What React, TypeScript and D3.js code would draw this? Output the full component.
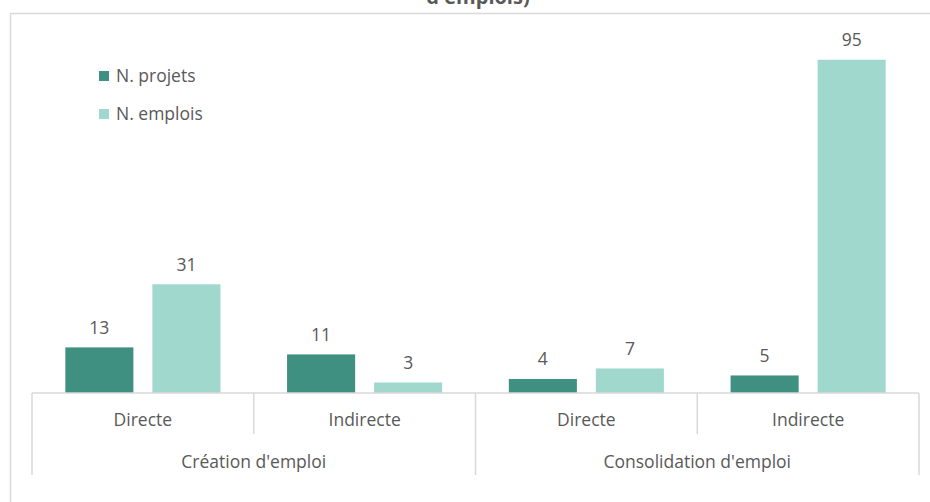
import React from "react";
import * as d3 from "d3";

const groups = ["Création d'emploi", "Consolidation d'emploi"];
const subcats = ["Directe", "Indirecte"];
const seriesNames = ["N. projets", "N. emplois"];
const projets = [13, 11, 4, 5];
const emplois = [31, 3, 7, 95];
const colors = ["#3F9080", "#A1D8CE"];

const W = 930;
const H = 502;
const left = 32;
const right = 919;
const base = 393;
const FONT = "'Open Sans', 'Noto Sans', sans-serif";
const TXT = "#595959";
const GRID = "#D9D9D9";
const FS = 17.5;

export default function App() {
  const cats = groups.flatMap((g) => subcats.map((s) => `${g}|${s}`));
  const x = d3.scaleBand<string>().domain(cats).range([left, right]).paddingInner(0).paddingOuter(0);
  const inner = d3.scaleBand<string>().domain(seriesNames).range([0, x.bandwidth()]).paddingInner(0.218).paddingOuter(0.383);
  const y = d3.scaleLinear().domain([0, 100]).range([base, 42.2]);
  const gx = d3.scaleBand<string>().domain(groups).range([left, right]);
  const values = [projets, emplois];

  return (
    <svg width={W} height={H} style={{ position: "fixed", left: 0, top: 0, background: "#fff" }} fontFamily={FONT}>
      <rect x={10.5} y={13.5} width={W} height={H} fill="#fff" stroke={GRID} strokeWidth={1.5} />
      <text x={478} y={4} textAnchor="middle" fontSize={20} fontWeight="bold" fill={TXT}>d'emplois)</text>
      {cats.map((c, i) =>
        values.map((vals, si) => {
          const v = vals[i];
          const bx = (x(c) as number) + (inner(seriesNames[si]) as number);
          return (
            <g key={c + si}>
              <rect x={bx} y={y(v)} width={inner.bandwidth()} height={base - y(v)} fill={colors[si]} />
              <text x={bx + inner.bandwidth() / 2} y={y(v) - 13.5} textAnchor="middle" fontSize={FS} fill={TXT}>{v}</text>
            </g>
          );
        })
      )}
      <line x1={left} x2={right} y1={base} y2={base} stroke={GRID} strokeWidth={1.5} />
      {cats.map((c, i) => (
        <g key={"ax" + c}>
          <line x1={x(c)} x2={x(c)} y1={base} y2={i % 2 === 0 ? 475 : 434} stroke={GRID} strokeWidth={1.5} />
          <text x={(x(c) as number) + x.bandwidth() / 2} y={426} textAnchor="middle" fontSize={FS} fill={TXT}>{c.split("|")[1]}</text>
        </g>
      ))}
      <line x1={right} x2={right} y1={base} y2={475} stroke={GRID} strokeWidth={1.5} />
      {groups.map((g) => (
        <text key={g} x={(gx(g) as number) + gx.bandwidth() / 2} y={468} textAnchor="middle" fontSize={FS} fill={TXT}>{g}</text>
      ))}
      {seriesNames.map((s, i) => (
        <g key={s} transform={`translate(99, ${71 + i * 38})`}>
          <rect x={0} y={0} width={10} height={10} fill={colors[i]} />
          <text x={17} y={11} fontSize={FS} fill={TXT}>{s}</text>
        </g>
      ))}
    </svg>
  );
}
